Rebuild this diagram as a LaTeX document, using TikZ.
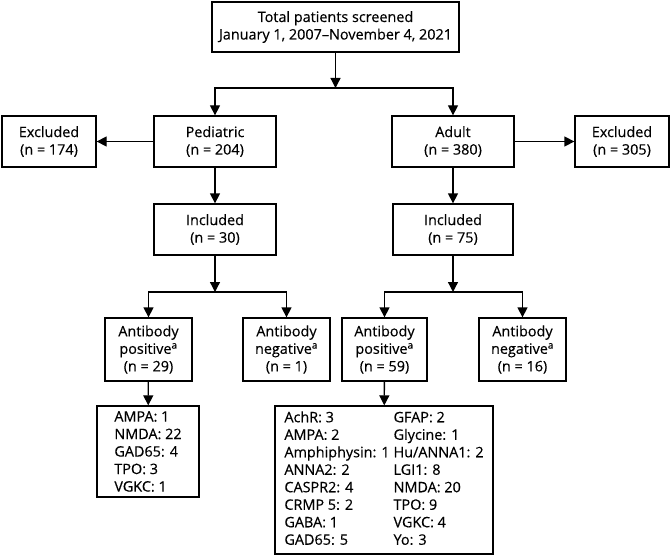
\documentclass[tikz,border=0pt]{standalone}
\usepackage{fontspec}
\setmainfont{Open Sans}
\newfontface\chartfont{Open Sans}[FakeBold=0.35]
\usetikzlibrary{arrows.meta}

\begin{document}
\begin{tikzpicture}[x=1pt, y=-1pt, line width=1.3pt, >={Triangle[width=10pt,length=10pt]},
  main/.style = {draw, align=center, inner sep=0pt, font=\chartfont\fontsize{14.4}{17.5}\selectfont},
  wide/.style = {main, minimum width=122pt, minimum height=51pt},
  side/.style = {main, minimum width=94pt, minimum height=51pt},
  ab/.style = {main, minimum width=87pt, minimum height=63pt},
  list/.style = {main, align=left}]
\useasboundingbox (0,0) rectangle (671,556);

\node[main, minimum width=247pt, minimum height=50pt] (total) at (335.5,27) {Total patients screened\\January 1, 2007–November 4, 2021};

\node[wide] (ped)   at (215,141.5) {Pediatric\\(n = 204)};
\node[side] (exped) at (49,141.5)  {Excluded\\(n = 174)};
\node[wide] (adu)   at (453,141.5) {Adult\\(n = 380)};
\node[side] (exadu) at (622,141.5) {Excluded\\(n = 305)};

\node[wide] (incped) at (215,229.5) {Included\\(n = 30)};
\node[wide, minimum width=120pt] (incadu) at (453,229.5) {Included\\(n = 75)};

\node[ab] (posped) at (148.5,349.5) {Antibody\\positive\textsuperscript{a}\\(n = 29)};
\node[ab] (negped) at (286.5,349.5) {Antibody\\negative\textsuperscript{a}\\(n = 1)};
\node[ab, minimum width=85pt] (posadu) at (384.5,349.5) {Antibody\\positive\textsuperscript{a}\\(n = 59)};
\node[ab] (negadu) at (522.5,349.5) {Antibody\\negative\textsuperscript{a}\\(n = 16)};

\node[list, minimum width=102pt, minimum height=91pt] (listped) at (148,451.5) {AMPA: 1\\NMDA: 22\\GAD65: 4\\TPO: 3\\VGKC: 1};
\node[list, minimum width=218pt, minimum height=148pt] (listadu) at (384,480) {%
  \begin{tabular}{@{}l@{\hspace{4pt}}l@{}}
  AchR: 3 & GFAP: 2\\
  AMPA: 2 & Glycine: 1\\
  Amphiphysin: 1 & Hu/ANNA1: 2\\
  ANNA2: 2 & LGI1: 8\\
  CASPR2: 4 & NMDA: 20\\
  CRMP 5: 2 & TPO: 9\\
  GABA: 1 & VGKC: 4\\
  GAD65: 5 & Yo: 3
  \end{tabular}};

\coordinate (split) at (335.5,88);
\coordinate (splitped) at (215,292);
\coordinate (splitadu) at (453,292);

\draw[->] (total) -- (split);
\draw[->] (split) -| (ped);
\draw[->] (split) -| (adu);
\draw[->] (ped) -- (exped);
\draw[->] (adu) -- (exadu);
\draw[->] (ped) -- (incped);
\draw[->] (adu) -- (incadu);
\draw[->] (incped) -- (splitped);
\draw[->] (incadu) -- (splitadu);
\draw[->] (splitped) -| (posped);
\draw[->] (splitped) -| (negped);
\draw[->] (splitadu) -| (posadu);
\draw[->] (splitadu) -| (negadu);
\draw[->] (posped) -- (listped);
\draw[->] (posadu) -- (listadu);

\end{tikzpicture}
\end{document}
